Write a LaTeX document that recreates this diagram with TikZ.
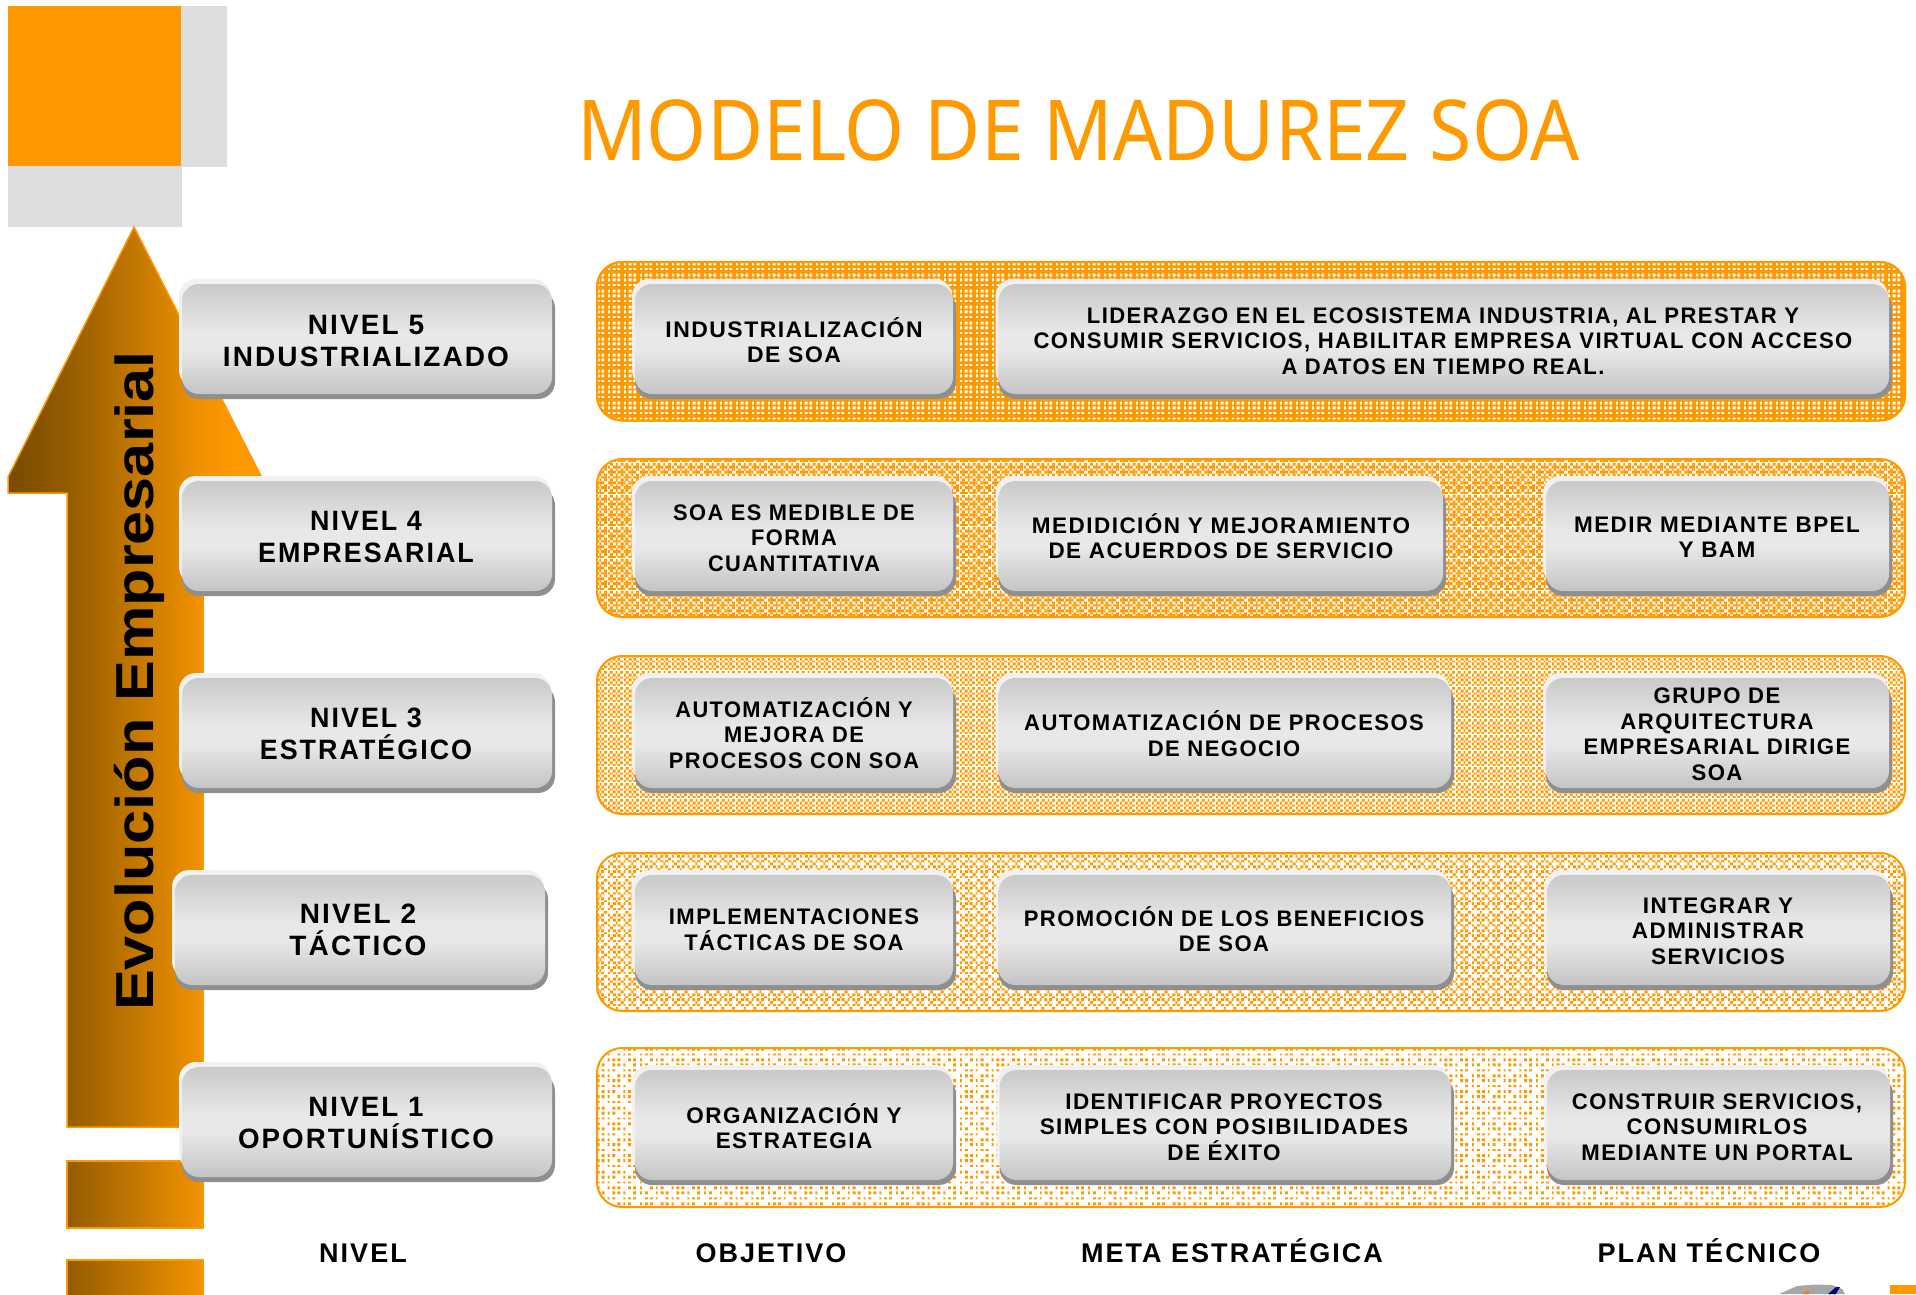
\documentclass[tikz,border=0pt]{standalone}
\usepackage{fontspec}
\usetikzlibrary{patterns}
\setmainfont{Liberation Sans}
\newfontfamily\boxfont[LetterSpace=6.5]{Liberation Sans}
\newfontfamily\lvlfont[LetterSpace=7.5]{Liberation Sans}
\newfontfamily\sidefont{Liberation Sans}
\newfontfamily\titlefont{Noto Sans}
\definecolor{soa}{HTML}{FF9900}
\definecolor{softgrey}{HTML}{DDDDDD}
\definecolor{hilite}{HTML}{F1F1F1}
\definecolor{rimgrey}{HTML}{8F8F8F}
\definecolor{brown1}{HTML}{784A00}
\definecolor{brown2}{HTML}{945C00}
\definecolor{or1}{HTML}{F39300}
\pgfdeclareverticalshading{glossy}{100bp}{color(0bp)=(black!22);color(25bp)=(black!23);color(45bp)=(black!9);color(53bp)=(black!9);color(75bp)=(black!21);color(100bp)=(black!21)}
\pgfdeclarehorizontalshading{arrowhead}{100bp}{color(0bp)=(brown1);color(25bp)=(brown1);color(36.7bp)=(brown2);color(63.7bp)=(or1);color(71bp)=(soa);color(100bp)=(soa)}
\pgfdeclarehorizontalshading{arrowbar}{100bp}{color(0bp)=(brown2);color(25bp)=(brown2);color(75bp)=(or1);color(100bp)=(or1)}
% bitmap cell of 8/3 px snapped to whole pixels; #1 last index, #2 test on \cc and \rr
\newcommand{\patcells}[2]{%
 \foreach \cc in {0,...,#1}{\foreach \rr in {0,...,#1}{%
   \pgfmathtruncatemacro\hit{(#2)?1:0}%
   \ifnum\hit=1
     \pgfmathtruncatemacro\xa{floor(\cc*8/3+0.001)}%
     \pgfmathtruncatemacro\ya{floor(\rr*8/3+0.001)}%
     \pgfmathtruncatemacro\wa{floor((\cc+1)*8/3+0.001)-\xa}%
     \pgfmathtruncatemacro\ha{floor((\rr+1)*8/3+0.001)-\ya}%
     \pgfpathrectangle{\pgfqpoint{\xa bp}{\ya bp}}{\pgfqpoint{\wa bp}{\ha bp}}\pgfusepath{fill}%
   \fi}}}
\pgfdeclarepatternformonly{pctA}{\pgfqpoint{0bp}{0bp}}{\pgfqpoint{16bp}{16bp}}{\pgfqpoint{16bp}{16bp}}{%
 \patcells{5}{mod(\cc,2)==0 && mod(\rr,2)==0}}
\pgfdeclarepatternformonly{pctB}{\pgfqpoint{0bp}{0bp}}{\pgfqpoint{32bp}{32bp}}{\pgfqpoint{32bp}{32bp}}{%
 \patcells{11}{mod(\cc+\rr,2)==0 || (mod(\cc,4)==1 && mod(\rr,4)==0) || (mod(\cc,4)==3 && mod(\rr,4)==2)}}
\pgfdeclarepatternformonly{pctC}{\pgfqpoint{0bp}{0bp}}{\pgfqpoint{16bp}{16bp}}{\pgfqpoint{16bp}{16bp}}{%
 \patcells{5}{mod(\cc+\rr,2)==0}}
\pgfdeclarepatternformonly{pctD}{\pgfqpoint{0bp}{0bp}}{\pgfqpoint{32bp}{32bp}}{\pgfqpoint{32bp}{32bp}}{%
 \patcells{11}{(mod(\cc,2)==0 && mod(\rr,2)==0) || (mod(\cc,4)==1 && mod(\rr,4)==1) || (mod(\cc,4)==3 && mod(\rr,4)==3)}}
\pgfdeclarepatternformonly{pctE}{\pgfqpoint{0bp}{0bp}}{\pgfqpoint{64bp}{64bp}}{\pgfqpoint{64bp}{64bp}}{%
 \patcells{23}{mod(\cc,2)==0 && mod(\rr,2)==0 && !(mod(\cc,8)==2 && mod(\rr,8)==0) && !(mod(\cc,8)==6 && mod(\rr,8)==2) && !(mod(\cc,8)==0 && mod(\rr,8)==4) && !(mod(\cc,8)==4 && mod(\rr,8)==6)}}
\tikzset{
  panelstyle/.style={draw=soa,line width=2bp,rounded corners=25bp,pattern color=soa},
  boxtext/.style={inner sep=0pt,align=center,text=black,font=\boxfont\bfseries\fontsize{22.5bp}{25.5bp}\selectfont},
  lvltext/.style={inner sep=0pt,align=center,text=black,font=\lvlfont\bfseries\fontsize{28bp}{31.5bp}\selectfont},
  foottext/.style={inner sep=0pt,anchor=base,text=black,font=\lvlfont\bfseries\fontsize{27bp}{30bp}\selectfont},
  barblock/.style={draw=soa,line width=1.5bp,shading=arrowbar}
}
% #1 left edge, #2 top edge, #3 right edge of face
\newcommand{\glossbox}[3]{%
  \fill[rimgrey,rounded corners=17bp] ({#1+3},{#2+12}) rectangle ({#3+3},{#2+120});
  \fill[hilite,rounded corners=17bp] ({#1},{#2}) rectangle ({#3-1},{#2+108});
  \shade[shading=glossy,rounded corners=17bp] ({#1+3},{#2+5}) rectangle ({#3},{#2+115});
}
\begin{document}
\begin{tikzpicture}[x=1bp,y=-1bp]
\useasboundingbox (0,0) rectangle (1916,1294);
% corner squares
\fill[softgrey] (181,6) rectangle (227,167);
\fill[softgrey] (8,166) rectangle (182,227);
\fill[soa] (8,6) rectangle (181,166);
% title
\node[inner sep=0pt,text=soa,anchor=base,xscale=0.916] (title) at (1078.5,160.5) {\titlefont\fontsize{84bp}{90bp}\selectfont MODELO DE MADUREZ SOA};
% arrow
\shade[shading=arrowhead,draw=soa,line width=1.5bp] (134,227) -- (261,476) -- (203,476) -- (203,1127) -- (67,1127) -- (67,493) -- (8,493) -- (8,477) -- cycle;
\shade[barblock] (67,1161) rectangle (203,1228);
\shade[barblock] (67,1260) rectangle (203,1296);
\node[inner sep=0pt,rotate=90,xscale=1.144,anchor=base,text=black] (evol) at (153,681) {\sidefont\bfseries\fontsize{53.5bp}{60bp}\selectfont Evolución Empresarial};
% panels
\fill[soa,rounded corners=25bp] (597,262) rectangle (1905,420.5);
\path[panelstyle,pattern=pctA,pattern color=white] (597,262) rectangle (1905,420.5);
\draw[soa,line width=2bp,rounded corners=25bp] (597,262) rectangle (1905,420.5);
\path[panelstyle,pattern=pctB] (597,459) rectangle (1905,617);
\path[panelstyle,pattern=pctC] (597,656) rectangle (1905,814);
\path[panelstyle,pattern=pctD] (597,853) rectangle (1905,1011);
\path[panelstyle,pattern=pctE] (597,1048) rectangle (1905,1207);
% level column
\glossbox{179}{279}{552}
\node[lvltext] (n5) at (366,341) {NIVEL 5\\INDUSTRIALIZADO};
\glossbox{179}{476}{552}
\node[lvltext,xscale=0.96] (n4) at (366,537) {NIVEL 4\\EMPRESARIAL};
\glossbox{179}{673}{552}
\node[lvltext,xscale=0.96] (n3) at (366,734) {NIVEL 3\\ESTRATÉGICO};
\glossbox{172}{870}{545}
\node[lvltext] (n2) at (358,930) {NIVEL 2\\TÁCTICO};
\glossbox{179}{1062}{552}
\node[lvltext,xscale=0.99] (n1) at (366,1123) {NIVEL 1\\OPORTUNÍSTICO};
% objective column
\glossbox{632}{279}{953}
\node[boxtext,xscale=1.02] (o5) at (794,340) {INDUSTRIALIZACIÓN\\DE SOA};
\glossbox{632}{476}{953}
\node[boxtext,xscale=0.97] (o4) at (794,538) {SOA ES MEDIBLE DE\\FORMA\\CUANTITATIVA};
\glossbox{632}{673}{953}
\node[boxtext,xscale=0.97] (o3) at (794,733) {AUTOMATIZACIÓN Y\\MEJORA DE\\PROCESOS CON SOA};
\glossbox{632}{870}{953}
\node[boxtext,xscale=0.98] (o2) at (794,929.5) {IMPLEMENTACIONES\\TÁCTICAS DE SOA};
\glossbox{632}{1065}{953}
\node[boxtext] (o1) at (794,1126) {ORGANIZACIÓN Y\\ESTRATEGIA};
% goal column
\glossbox{995.5}{279}{1889}
\node[boxtext,xscale=0.981] (m5) at (1443,341) {LIDERAZGO EN EL ECOSISTEMA INDUSTRIA, AL PRESTAR Y\\CONSUMIR SERVICIOS, HABILITAR EMPRESA VIRTUAL CON ACCESO\\A DATOS EN TIEMPO REAL.};
\glossbox{995.5}{476}{1443}
\node[boxtext] (m4) at (1221,536) {MEDIDICIÓN Y MEJORAMIENTO\\DE ACUERDOS DE SERVICIO};
\glossbox{995.5}{673}{1451}
\node[boxtext,xscale=0.98] (m3) at (1224,733.5) {AUTOMATIZACIÓN DE PROCESOS\\DE NEGOCIO};
\glossbox{995.5}{870}{1451}
\node[boxtext,xscale=0.98] (m2) at (1224,929) {PROMOCIÓN DE LOS BENEFICIOS\\DE SOA};
\glossbox{996.5}{1065}{1451}
\node[boxtext] (m1) at (1224,1127) {IDENTIFICAR PROYECTOS\\SIMPLES CON POSIBILIDADES\\DE ÉXITO};
% plan column
\glossbox{1543}{476}{1889}
\node[boxtext] (p4) at (1717,537) {MEDIR MEDIANTE BPEL\\Y BAM};
\glossbox{1543}{673}{1889}
\node[boxtext,xscale=0.985] (p3) at (1717,734) {GRUPO DE\\ARQUITECTURA\\EMPRESARIAL DIRIGE\\SOA};
\glossbox{1544}{870}{1890}
\node[boxtext] (p2) at (1718,931) {INTEGRAR Y\\ADMINISTRAR\\SERVICIOS};
\glossbox{1544}{1065}{1890}
\node[boxtext,xscale=0.985] (p1) at (1717,1127) {CONSTRUIR SERVICIOS,\\CONSUMIRLOS\\MEDIANTE UN PORTAL};
% footer
\node[foottext] (f1) at (363,1262) {NIVEL};
\node[foottext] (f2) at (771,1262) {OBJETIVO};
\node[foottext] (f3) at (1232,1262) {META ESTRATÉGICA};
\node[foottext] (f4) at (1709,1262) {PLAN TÉCNICO};
% logo fragment and corner
\fill[black!35] (1779,1294) -- (1797,1286) -- (1815,1284.5) -- (1832,1285) -- (1842,1289) -- (1845,1294) -- cycle;
\fill[orange!70!brown] (1803,1294) -- (1805,1291) -- (1809,1291) -- (1809,1294) -- cycle;
\fill[blue!50!black] (1828,1294) -- (1836,1287) -- (1840,1287) -- (1836,1294) -- cycle;
\fill[soa] (1890,1285) rectangle (1916,1294);
\end{tikzpicture}
\end{document}
